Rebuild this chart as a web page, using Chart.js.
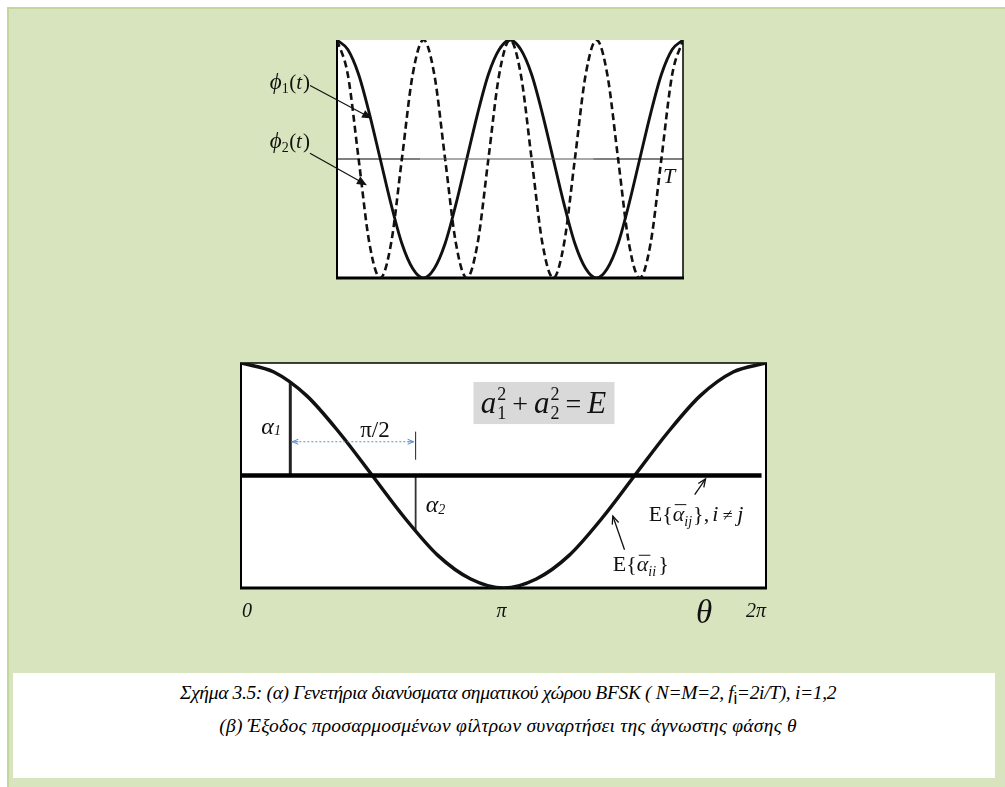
<!DOCTYPE html>
<html>
<head>
<meta charset="utf-8">
<title>BFSK</title>
<script src="https://cdn.jsdelivr.net/npm/chart.js@4/dist/chart.umd.min.js"></script>
<style>
  html, body { margin: 0; padding: 0; background: #fff; }
  body { width: 1005px; height: 787px; position: relative; overflow: hidden; }
  #panel { position: absolute; left: 7px; top: 7px; right: 0; bottom: 0; background: #d7e4bd;
           border-top: 2px solid #c3d69b; border-left: 2px solid #c3d69b; }
  canvas { position: absolute; }
  #waves { left: 240px; top: 30px; }
  #phase { left: 220px; top: 340px; }
  #caption { position: absolute; left: 13px; top: 673px; width: 982px; height: 105px; background: #fff; }
  .cap { position: absolute; left: 8px; right: 0; text-align: center; color: #000; white-space: nowrap;
         font: italic 19.5px "Liberation Serif", "Times New Roman", serif; line-height: 24px; }
  .cap .sub { font: 17px "Liberation Sans", Arial, sans-serif; position: relative; top: 5px; }
</style>
</head>
<body>
<div id="panel"></div>
<canvas id="waves" width="460" height="270"></canvas>
<canvas id="phase" width="570" height="300"></canvas>
<div id="caption">
  <div class="cap" style="top:8px; letter-spacing:-0.35px">Σχήμα 3.5: (α) Γενετήρια διανύσματα σηματικού χώρου BFSK ( N=M=2, f<span class="sub">i</span>=2i/T), i=1,2</div>
  <div class="cap" style="top:41px; letter-spacing:0.25px">(β) Έξοδος προσαρμοσμένων φίλτρων συναρτήσει της άγνωστης φάσης θ</div>
</div>
<script>
// (a) basis signals, time in steps of T/32
const tSteps = [0, 1, 2, 3, 4, 5, 6, 7, 8, 9, 10, 11, 12, 13, 14, 15, 16,
                17, 18, 19, 20, 21, 22, 23, 24, 25, 26, 27, 28, 29, 30, 31, 32];
const phi1 = [1, 0.92, 0.71, 0.38, 0, -0.38, -0.71, -0.92, -1, -0.92, -0.71, -0.38, 0, 0.38, 0.71, 0.92,
              1, 0.92, 0.71, 0.38, 0, -0.38, -0.71, -0.92, -1, -0.92, -0.71, -0.38, 0, 0.38, 0.71, 0.92, 1];
const phi2 = [1, 0.71, 0, -0.71, -1, -0.71, 0, 0.71, 1, 0.71, 0, -0.71, -1, -0.71, 0, 0.71,
              1, 0.71, 0, -0.71, -1, -0.71, 0, 0.71, 1, 0.71, 0, -0.71, -1, -0.71, 0, 0.71, 1];
const axisSteps = [0, 7.7, 23.7, 32];
const axisLevel = [0, 0, 0, 0];

// (b) matched filter outputs against the unknown phase
const theta = [0, 0.393, 0.785, 1.178, 1.571, 1.963, 2.356, 2.749, 3.142,
               3.534, 3.927, 4.320, 4.712, 5.105, 5.498, 5.890, 6.283];
const matchedOut = [1, 0.92, 0.71, 0.38, 0, -0.38, -0.71, -0.92, -1, -0.92, -0.71, -0.38, 0, 0.38, 0.71, 0.92, 1];
const crossTheta = [0, 6.23];
const crossOut = [0, 0];
const alphaTheta = [0.59, 2.09];
const alphaValue = [0.83, -0.5];
const thetaTicks = [0, 3.1416, 6.2832];
const thetaTickLabels = ['0', 'π', '2π'];

const SERIF = '"Liberation Serif", "Times New Roman", serif';
const INK = '#111';

const pts = (xs, ys) => xs.map((x, i) => ({ x: x, y: ys[i] }));

// draws a run of text pieces left to right, returns the width
function textRun(ctx, parts, x, y, dry) {
  let cx = x;
  for (const p of parts) {
    ctx.font = p.font;
    if (p.stack) {
      const wa = ctx.measureText(p.stack[0]).width, wb = ctx.measureText(p.stack[1]).width;
      if (!dry) {
        ctx.fillText(p.stack[0], cx, y + p.dys[0]);
        ctx.fillText(p.stack[1], cx, y + p.dys[1]);
      }
      cx += Math.max(wa, wb) + (p.gap || 0);
      continue;
    }
    const w = ctx.measureText(p.text).width;
    if (!dry) {
      ctx.fillText(p.text, cx, y + (p.dy || 0));
      if (p.over) {
        ctx.lineWidth = 1;
        ctx.beginPath();
        ctx.moveTo(cx + 2, y - p.over);
        ctx.lineTo(cx + w + 2, y - p.over);
        ctx.stroke();
      }
    }
    cx += w + (p.gap || 0);
  }
  return cx - x;
}

function arrow(ctx, x0, y0, x1, y1, head, open) {
  const a = Math.atan2(y1 - y0, x1 - x0);
  const c = Math.cos(a), s = Math.sin(a), w = head * 0.42;
  ctx.beginPath();
  ctx.moveTo(x0, y0);
  ctx.lineTo(open ? x1 : x1 - c * head * 0.7, open ? y1 : y1 - s * head * 0.7);
  ctx.stroke();
  ctx.beginPath();
  ctx.moveTo(x1 - c * head + s * w, y1 - s * head - c * w);
  ctx.lineTo(x1, y1);
  ctx.lineTo(x1 - c * head - s * w, y1 - s * head + c * w);
  if (open) {
    ctx.stroke();
  } else {
    ctx.closePath();
    ctx.fill();
  }
}

function whiteArea(chart) {
  const { ctx, chartArea: a } = chart;
  ctx.save();
  ctx.fillStyle = '#fff';
  ctx.fillRect(a.left, a.top, a.right - a.left, a.bottom - a.top);
  ctx.restore();
}

function edge(ctx, x0, y0, x1, y1, w) {
  ctx.lineWidth = w;
  ctx.beginPath();
  ctx.moveTo(x0, y0);
  ctx.lineTo(x1, y1);
  ctx.stroke();
}

const waveNotes = {
  id: 'waveNotes',
  beforeDraw: whiteArea,
  beforeDatasetsDraw(chart) {
    const { ctx, chartArea: a } = chart;
    ctx.save();
    ctx.strokeStyle = '#000';
    edge(ctx, a.left, a.top, a.left, a.bottom + 1, 2);
    edge(ctx, a.right, a.top, a.right, a.bottom + 1, 1.5);
    edge(ctx, a.left - 1, a.bottom, a.right + 1, a.bottom, 3);
    ctx.restore();
  },
  afterDatasetsDraw(chart) {
    const { ctx, chartArea: a, scales: { x, y } } = chart;
    ctx.save();
    ctx.fillStyle = INK;
    ctx.strokeStyle = INK;
    ctx.lineWidth = 1.2;
    ctx.textBaseline = 'alphabetic';

    const labels = [
      { n: '1', tip: [3.24, 0.34], off: [-62, -33], dy: 3 },
      { n: '2', tip: [2.77, -0.22], off: [-57, -32], dy: -5 }
    ];
    for (const l of labels) {
      const tx = x.getPixelForValue(l.tip[0]), ty = y.getPixelForValue(l.tip[1]);
      const sx = tx + l.off[0], sy = ty + l.off[1];
      arrow(ctx, sx, sy, tx, ty, 10, false);
      const parts = [
        { text: 'ϕ', font: `italic 23px ${SERIF}` },
        { text: l.n, font: `14px ${SERIF}`, dy: 4, gap: 0.5 },
        { text: '(', font: `21px ${SERIF}` },
        { text: 't', font: `italic 21px ${SERIF}`, gap: 1 },
        { text: ')', font: `21px ${SERIF}` }
      ];
      const w = textRun(ctx, parts, 0, 0, true);
      textRun(ctx, parts, sx - w, sy + l.dy);
    }

    ctx.font = `italic 22px ${SERIF}`;
    ctx.fillText('T', a.right - 20, y.getPixelForValue(0) + 24);
    ctx.restore();
  }
};

new Chart(document.getElementById('waves'), {
  type: 'line',
  data: {
    datasets: [
      {
        label: 'axis',
        data: pts(axisSteps, axisLevel),
        borderColor: '#000',
        borderWidth: 1.2,
        segment: { borderColor: c => (c.p0DataIndex === 1 ? '#555' : '#000') }
      },
      {
        label: 'φ2(t)',
        data: pts(tSteps, phi2),
        borderColor: INK,
        borderWidth: 2.6,
        borderDash: [7, 4],
        cubicInterpolationMode: 'monotone'
      },
      {
        label: 'φ1(t)',
        data: pts(tSteps, phi1),
        borderColor: INK,
        borderWidth: 2.9,
        cubicInterpolationMode: 'monotone'
      }
    ]
  },
  options: {
    responsive: false,
    animation: false,
    events: [],
    layout: { padding: { left: 97, right: 17, top: 10, bottom: 22 } },
    elements: { point: { radius: 0 } },
    scales: {
      x: { type: 'linear', min: 0, max: 32, display: false },
      y: { min: -1, max: 1, display: false }
    },
    plugins: { legend: { display: false }, tooltip: { enabled: false } }
  },
  plugins: [waveNotes]
});

const phaseNotes = {
  id: 'phaseNotes',
  beforeDraw: whiteArea,
  beforeDatasetsDraw(chart) {
    const { ctx, chartArea: a } = chart;
    ctx.save();
    ctx.strokeStyle = '#000';
    edge(ctx, a.left - 1, a.top, a.right + 1, a.top, 1.5);
    edge(ctx, a.left, a.top, a.left, a.bottom, 2);
    edge(ctx, a.right, a.top, a.right, a.bottom, 2);
    edge(ctx, a.left - 1, a.bottom, a.right + 1, a.bottom, 3);
    ctx.restore();
  },
  afterDatasetsDraw(chart) {
    const { ctx, chartArea: a, scales: { x, y } } = chart;
    ctx.save();
    ctx.fillStyle = INK;
    ctx.strokeStyle = INK;
    ctx.textBaseline = 'alphabetic';

    const x1 = x.getPixelForValue(alphaTheta[0]);
    const x2 = x.getPixelForValue(alphaTheta[1]);

    // alpha_1, alpha_2 labels
    textRun(ctx, [
      { text: 'α', font: `italic 24px ${SERIF}` },
      { text: '1', font: `italic 14px ${SERIF}`, dy: 1 }
    ], x1 - 29, y.getPixelForValue(0.43) + 7);
    textRun(ctx, [
      { text: 'α', font: `italic 24px ${SERIF}` },
      { text: '2', font: `italic 14px ${SERIF}`, dy: 2 }
    ], x2 + 10, y.getPixelForValue(-0.26) + 7);

    // pi/2 spacing between the two samples
    const ay = y.getPixelForValue(0.3);
    ctx.strokeStyle = '#222';
    edge(ctx, x2, y.getPixelForValue(0.39), x2, y.getPixelForValue(0.14), 1);
    ctx.strokeStyle = '#5b8fd0';
    ctx.lineWidth = 1;
    ctx.setLineDash([2, 2]);
    ctx.beginPath();
    ctx.moveTo(x1 + 1, ay);
    ctx.lineTo(x2 - 1, ay);
    ctx.stroke();
    ctx.setLineDash([]);
    arrow(ctx, x1 + 8, ay, x1 + 2, ay, 6, true);
    arrow(ctx, x2 - 8, ay, x2 - 2, ay, 6, true);
    ctx.font = `23px ${SERIF}`;
    ctx.textAlign = 'center';
    ctx.fillText('π/2', (x1 + x2) / 2 + 22, ay - 5);
    ctx.textAlign = 'left';

    // energy relation
    const bx = x.getPixelForValue(3.62), by = y.getPixelForValue(0.644);
    ctx.fillStyle = '#d9d9d9';
    ctx.fillRect(bx - 70, by - 21, 141, 42);
    ctx.fillStyle = INK;
    const eq = [
      { text: 'a', font: `italic 31px ${SERIF}`, gap: 1 },
      { stack: ['2', '1'], dys: [-13, 6], font: `18px ${SERIF}`, gap: 6 },
      { text: '+', font: `28px ${SERIF}`, gap: 6 },
      { text: 'a', font: `italic 31px ${SERIF}`, gap: 1 },
      { stack: ['2', '2'], dys: [-13, 6], font: `18px ${SERIF}`, gap: 6 },
      { text: '=', font: `28px ${SERIF}`, gap: 6 },
      { text: 'E', font: `italic 31px ${SERIF}` }
    ];
    const ew = textRun(ctx, eq, 0, 0, true);
    textRun(ctx, eq, bx - ew / 2, by + 10);

    // expected values
    ctx.strokeStyle = INK;
    ctx.lineWidth = 1.3;
    arrow(ctx, x.getPixelForValue(5.43), y.getPixelForValue(-0.17),
          x.getPixelForValue(5.56), y.getPixelForValue(-0.03), 8, true);
    arrow(ctx, x.getPixelForValue(4.59), y.getPixelForValue(-0.66),
          x.getPixelForValue(4.45), y.getPixelForValue(-0.36), 8, true);

    textRun(ctx, [
      { text: 'E{', font: `22px ${SERIF}` },
      { text: 'α', font: `italic 22px ${SERIF}`, over: 16 },
      { text: 'ij', font: `italic 14px ${SERIF}`, dy: 5, gap: 1 },
      { text: '},', font: `22px ${SERIF}`, gap: 3 },
      { text: 'i', font: `italic 22px ${SERIF}` },
      { text: ' ≠ ', font: `18px ${SERIF}` },
      { text: 'j', font: `italic 22px ${SERIF}` }
    ], x.getPixelForValue(4.88), y.getPixelForValue(-0.33) + 8);
    textRun(ctx, [
      { text: 'E{', font: `22px ${SERIF}` },
      { text: 'α', font: `italic 22px ${SERIF}`, over: 16 },
      { text: 'ii', font: `italic 14px ${SERIF}`, dy: 5, gap: 2 },
      { text: '}', font: `22px ${SERIF}` }
    ], x.getPixelForValue(4.45), y.getPixelForValue(-0.78) + 8);

    // phase axis labels
    const base = a.bottom + 29;
    ctx.font = `italic 20px ${SERIF}`;
    thetaTicks.forEach((v, i) => {
      const px = x.getPixelForValue(v);
      ctx.textAlign = i === 0 ? 'left' : (i === thetaTicks.length - 1 ? 'right' : 'center');
      ctx.fillText(thetaTickLabels[i], px + (i === 0 ? 1 : i === thetaTicks.length - 1 ? 0 : -2), base);
    });
    ctx.textAlign = 'center';
    ctx.font = `italic 33px ${SERIF}`;
    ctx.fillText('θ', x.getPixelForValue(thetaTicks[2]) - 62, base + 6);
    ctx.restore();
  }
};

new Chart(document.getElementById('phase'), {
  type: 'line',
  data: {
    datasets: [
      {
        label: 'E{αij}, i≠j',
        data: pts(crossTheta, crossOut),
        borderColor: '#000',
        borderWidth: 4.5
      },
      {
        label: 'E{αii}',
        data: pts(theta, matchedOut),
        borderColor: INK,
        borderWidth: 3.5,
        cubicInterpolationMode: 'monotone'
      },
      {
        label: 'α1',
        data: pts([alphaTheta[0], alphaTheta[0]], [0, alphaValue[0]]),
        borderColor: '#222',
        borderWidth: 3
      },
      {
        label: 'α2',
        data: pts([alphaTheta[1], alphaTheta[1]], [0, alphaValue[1]]),
        borderColor: '#333',
        borderWidth: 1.8
      }
    ]
  },
  options: {
    responsive: false,
    animation: false,
    events: [],
    layout: { padding: { left: 21, right: 24, top: 23, bottom: 52 } },
    elements: { point: { radius: 0 } },
    scales: {
      x: { type: 'linear', min: 0, max: 6.2832, display: false },
      y: { min: -1, max: 1, display: false }
    },
    plugins: { legend: { display: false }, tooltip: { enabled: false } }
  },
  plugins: [phaseNotes]
});
</script>
</body>
</html>
